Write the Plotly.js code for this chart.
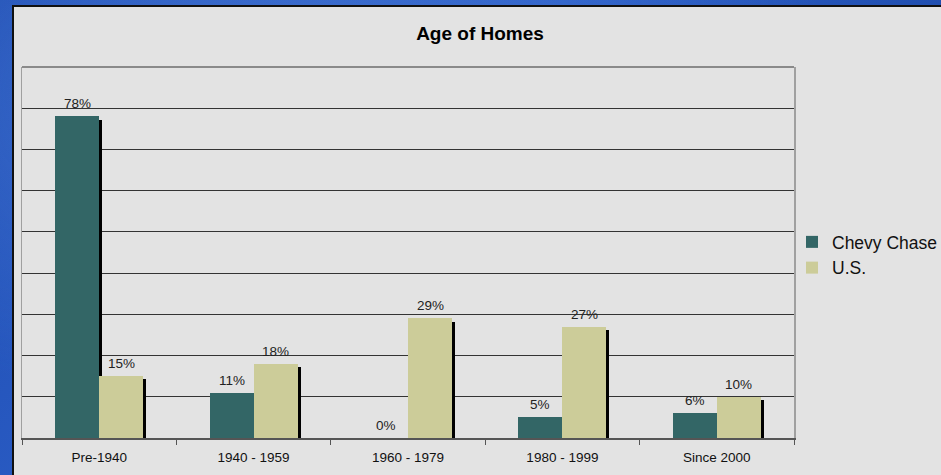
<!DOCTYPE html>
<html>
<head>
<meta charset="utf-8">
<script src="https://cdn.plot.ly/plotly-3.0.1.min.js"></script>
<style>
  html, body { margin:0; padding:0; width:941px; height:475px; overflow:hidden; }
  body {
    background:
      radial-gradient(ellipse at 30% 20%, rgba(90,140,230,0.55), rgba(0,0,0,0) 60%),
      radial-gradient(ellipse at 80% 90%, rgba(20,50,140,0.7), rgba(0,0,0,0) 55%),
      linear-gradient(135deg, #1d4bb0 0%, #2a5cc4 40%, #163f98 100%);
  }
  #panel {
    position:absolute; left:12px; top:5px; width:940px; height:480px;
    border-left:2px solid #111; border-top:2px solid #111;
    background:#e3e3e3;
  }
  #chart { position:absolute; left:0; top:0; width:941px; height:475px; }
</style>
</head>
<body>
<div id="panel"></div>
<div id="chart"></div>
<script>
// ---- data ----
const categories = ['Pre-1940', '1940 - 1959', '1960 - 1979', '1980 - 1999', 'Since 2000'];
const chevyChase = [0.78, 0.11, 0.00, 0.05, 0.06];
const usValues   = [0.15, 0.18, 0.29, 0.27, 0.10];
const seriesNames = ['Chevy Chase', 'U.S.'];
const gridValues = [0.1, 0.2, 0.3, 0.4, 0.5, 0.6, 0.7, 0.8];

// ---- styling ----
const colors = ['#336666', '#cccc99'];
const barWidth = 0.285;
const offsets = [-0.285, 0.0];
const shadowDx = 0.0194;   // ~3px
const shadowDy = 0.0075;   // ~3px

const idx = categories.map((_, i) => i);
const boundaries = categories.map((_, i) => i - 0.5).concat([categories.length - 0.5]);
const series = [chevyChase, usValues];

const traces = [];
series.forEach((vals, s) => {
  traces.push({
    type: 'bar', x: idx, y: vals.map(v => Math.max(0, v - shadowDy)),
    width: barWidth, offset: offsets[s] + shadowDx,
    marker: {color: '#000000', line: {width: 0}},
    showlegend: false, hoverinfo: 'skip'
  });
});
series.forEach((vals, s) => {
  traces.push({
    type: 'bar', name: seriesNames[s], x: idx, y: vals,
    width: barWidth, offset: offsets[s],
    marker: {color: colors[s], line: {width: 0}},
    legendgroup: 'g' + s
  });
});

const annotations = [];
series.forEach((vals, s) => {
  vals.forEach((v, i) => {
    annotations.push({
      x: i + offsets[s] + barWidth / 2, y: v, xref: 'x', yref: 'y',
      text: Math.round(v * 100) + '%', showarrow: false,
      yanchor: 'bottom', yshift: 3,
      font: {family: 'Liberation Sans, Arial, sans-serif', size: 13.5, color: '#222'}
    });
  });
});

const layout = {
  width: 941, height: 475,
  margin: {l: 22, r: 147, t: 67, b: 37, pad: 0, autoexpand: false},
  paper_bgcolor: 'rgba(0,0,0,0)',
  plot_bgcolor: '#e3e3e3',
  barmode: 'overlay',
  title: {
    text: '<b>Age of Homes</b>',
    font: {family: 'Liberation Sans, Arial, sans-serif', size: 19, color: '#000'},
    xref: 'container', x: 480 / 941, xanchor: 'center',
    yref: 'container', y: 1 - 33 / 475, yanchor: 'middle'
  },
  xaxis: {
    range: [-0.5, categories.length - 0.5],
    tickmode: 'array', tickvals: idx, ticktext: categories,
    ticks: '', showgrid: false, zeroline: false,
    showline: true, linecolor: '#555', linewidth: 2,
    ticklabelstandoff: 6,
    tickfont: {family: 'Liberation Sans, Arial, sans-serif', size: 13.5, color: '#111'},
    minor: {tickmode: 'array', tickvals: boundaries, ticks: 'outside', ticklen: 5, tickwidth: 1, tickcolor: '#555', showgrid: false},
    fixedrange: true
  },
  yaxis: {
    range: [0, 0.9],
    tickmode: 'array', tickvals: gridValues, showticklabels: false, ticks: '',
    showgrid: true, gridcolor: '#333', gridwidth: 1, zeroline: false,
    showline: true, linecolor: '#a0a0a0', linewidth: 1.5, mirror: true,
    fixedrange: true
  },
  shapes: [{
    type: 'line', xref: 'paper', yref: 'paper', x0: 0, x1: 1, y0: 1, y1: 1,
    line: {color: '#8a8a8a', width: 2}
  }],
  annotations: annotations,
  showlegend: true,
  legend: {
    xref: 'container', yref: 'container',
    x: 792 / 941, xanchor: 'left', y: 1 - 224 / 475, yanchor: 'top',
    bgcolor: 'rgba(0,0,0,0)', borderwidth: 0,
    tracegroupgap: 4, traceorder: 'normal',
    font: {family: 'Liberation Sans, Arial, sans-serif', size: 17.5, color: '#111'}
  },
  bargap: 0
};

Plotly.newPlot('chart', traces, layout, {displayModeBar: false, staticPlot: true});
</script>
</body>
</html>
